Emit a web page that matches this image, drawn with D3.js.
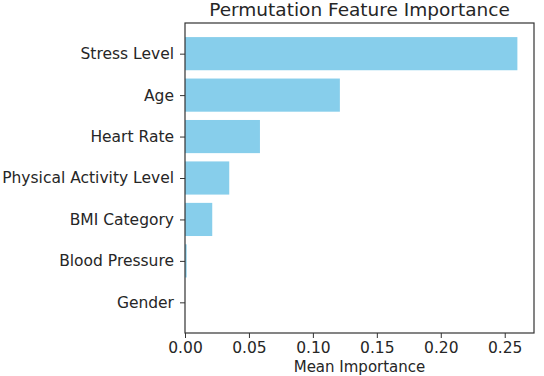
<!DOCTYPE html>
<html><head><meta charset="utf-8">
<script src="https://cdn.jsdelivr.net/npm/d3@7"></script>
<style>body{margin:0;background:#fff}svg{display:block}text{font-family:"DejaVu Sans",sans-serif;fill:#262626}</style>
</head><body>
<script>
const features = ["Stress Level","Age","Heart Rate","Physical Activity Level","BMI Category","Blood Pressure","Gender"];
const importances = [0.2599,0.1211,0.0586,0.0346,0.0213,0.0013,0.0];
const xTicks = [0.00,0.05,0.10,0.15,0.20,0.25];
const title = "Permutation Feature Importance";
const xLabel = "Mean Importance";

const W=544,H=376;
const L=185,R=534,T=23,B=333;
const svg=d3.select("body").append("svg").attr("width",W).attr("height",H);
const xmax=d3.max(importances)*1.05;
const x=d3.scaleLinear().domain([0,xmax]).range([L,R]);
const n=features.length;
const pad=0.05*(n-1+0.8);
const y=d3.scaleLinear().domain([-0.4-pad,n-1+0.4+pad]).range([T,B]);

svg.append("g").selectAll("rect").data(importances).join("rect")
  .attr("x",x(0)).attr("y",(d,i)=>y(i-0.4)).attr("width",d=>x(d)-x(0))
  .attr("height",(d,i)=>y(i+0.4)-y(i-0.4)).attr("fill","#87ceeb");

const xa=svg.append("g").attr("transform",`translate(0,${B})`)
  .call(d3.axisBottom(x).tickValues(xTicks).tickFormat(d3.format(".2f")).tickSize(5).tickPadding(4));
const ya=svg.append("g").attr("transform",`translate(${L},0)`)
  .call(d3.axisLeft(y).tickValues(d3.range(n)).tickFormat(i=>features[i]).tickSize(5).tickPadding(6));
[xa,ya].forEach(a=>{a.select(".domain").remove();a.selectAll("text").style("font-size","15.5px").attr("fill","#262626");a.selectAll("line").attr("stroke","#333");});

svg.append("rect").attr("x",L).attr("y",T).attr("width",R-L).attr("height",B-T)
  .attr("fill","none").attr("stroke","#333").attr("stroke-width",1.2);

svg.append("text").attr("x",(L+R)/2).attr("y",16).attr("text-anchor","middle").style("font-size","18.5px").text(title);
svg.append("text").attr("x",(L+R)/2).attr("y",372).attr("text-anchor","middle").style("font-size","15px").text(xLabel);
</script>
</body></html>
